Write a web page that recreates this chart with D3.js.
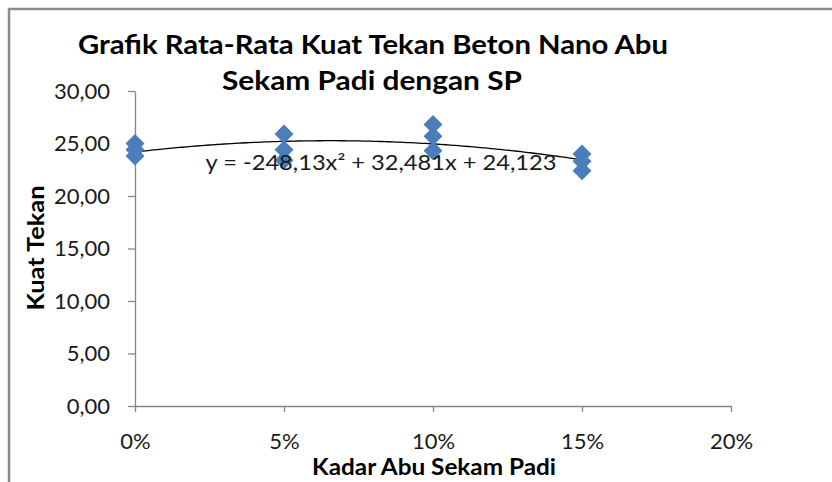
<!DOCTYPE html>
<html>
<head>
<meta charset="utf-8">
<script src="https://cdn.jsdelivr.net/npm/d3@7"></script>
<style>
  html, body { margin: 0; padding: 0; background: #fff; }
  svg { display: block; font-family: Lato, 'Open Sans', sans-serif; }
</style>
</head>
<body>
<div id="graph"></div>
<script>
// values
const kadar = [0, 0.05, 0.10, 0.15]
const kuatTekan = [
  [25.0, 24.4, 23.8],
  [25.9, 24.4, 23.4],
  [26.8, 25.7, 24.3],
  [24.0, 23.3, 22.4]
]
const xTicks = [0, 0.05, 0.10, 0.15, 0.20]
const yTicks = [0, 5, 10, 15, 20, 25, 30]
const titleLines = ['Grafik Rata-Rata Kuat Tekan Beton Nano Abu', 'Sekam Padi dengan SP']
const equationLabel = 'y = -248,13x² + 32,481x + 24,123'

const SIZE = Object.freeze({ WIDTH: 832, HEIGHT: 482 }),
      PLOT = Object.freeze({ LEFT: 135, RIGHT: 731, TOP: 91, BOTTOM: 406 }),
      COLORS = Object.freeze({ MARKER: '#4a7ebb', AXIS: '#868686', TEXT: '#1a1a1a', BORDER: '#8a8a8a' })

const locale = d3.formatLocale({ decimal: ',', thousands: '.', grouping: [3], currency: ['', ''] })
const formatY = locale.format('.2f'),
      formatX = d3.format('.0%')

const points = []
kadar.forEach((x, i) => kuatTekan[i].forEach(y => points.push({ x, y })))

// least squares fit of a 2nd order polynomial, like the spreadsheet trendline
const fitQuadratic = (data) => {
  const s = [0, 0, 0, 0, 0], t = [0, 0, 0]
  data.forEach(({ x, y }) => {
    for (let k = 0; k < 5; k++) s[k] += Math.pow(x, k)
    for (let k = 0; k < 3; k++) t[k] += y * Math.pow(x, k)
  })
  const m = [
    [s[0], s[1], s[2], t[0]],
    [s[1], s[2], s[3], t[1]],
    [s[2], s[3], s[4], t[2]]
  ]
  for (let c = 0; c < 3; c++) {
    for (let r = c + 1; r < 3; r++) {
      const f = m[r][c] / m[c][c]
      for (let k = c; k < 4; k++) m[r][k] -= f * m[c][k]
    }
  }
  const coef = [0, 0, 0]
  for (let r = 2; r >= 0; r--) {
    let v = m[r][3]
    for (let k = r + 1; k < 3; k++) v -= m[r][k] * coef[k]
    coef[r] = v / m[r][r]
  }
  return x => coef[0] + coef[1] * x + coef[2] * x * x
}

const buildChart = () => {
  const xScale = d3.scaleLinear().domain([0, 0.2]).range([PLOT.LEFT, PLOT.RIGHT]),
        yScale = d3.scaleLinear().domain([0, 30]).range([PLOT.BOTTOM, PLOT.TOP])

  const svg = d3.select('#graph')
    .append('svg')
    .attr('width', SIZE.WIDTH)
    .attr('height', SIZE.HEIGHT)

  // chart frame (only top and left edges are in view)
  svg.append('path')
    .attr('d', `M9,${SIZE.HEIGHT + 5}V9H${SIZE.WIDTH + 5}`)
    .attr('fill', 'none')
    .attr('stroke', COLORS.BORDER)
    .attr('stroke-width', 2.5)

  const xAxis = d3.axisBottom(xScale)
    .tickValues(xTicks)
    .tickFormat(formatX)
    .tickSizeInner(6)
    .tickSizeOuter(0)
    .tickPadding(21)

  const yAxis = d3.axisLeft(yScale)
    .tickValues(yTicks)
    .tickFormat(formatY)
    .tickSizeInner(7)
    .tickSizeOuter(0)
    .tickPadding(18)

  const gx = svg.append('g')
    .attr('transform', `translate(0,${PLOT.BOTTOM})`)
    .call(xAxis)
  const gy = svg.append('g')
    .attr('transform', `translate(${PLOT.LEFT},0)`)
    .call(yAxis)

  ;[gx, gy].forEach(g => {
    g.select('.domain').attr('stroke', COLORS.AXIS).attr('stroke-width', 1.3)
    g.selectAll('.tick line').attr('stroke', COLORS.AXIS).attr('stroke-width', 1.3)
    g.selectAll('.tick text')
      .attr('fill', COLORS.TEXT)
      .style('font-size', '22px')
      .style('font-family', 'Lato, sans-serif')
  })

  // trendline
  const trend = fitQuadratic(points)
  const trendX = d3.range(0, 0.15 + 1e-9, 0.0025)
  svg.append('path')
    .datum(trendX)
    .attr('fill', 'none')
    .attr('stroke', '#000')
    .attr('stroke-width', 1.3)
    .attr('d', d3.line().x(d => xScale(d)).y(d => yScale(trend(d))).curve(d3.curveMonotoneX))

  // markers
  svg.append('g')
    .selectAll('path')
    .data(points)
    .enter()
    .append('path')
    .attr('transform', d => `translate(${xScale(d.x)},${yScale(d.y)})`)
    .attr('d', d3.symbol(d3.symbolDiamond2, 230))
    .attr('fill', COLORS.MARKER)

  // equation label
  svg.append('text')
    .attr('x', 381)
    .attr('y', 170)
    .attr('text-anchor', 'middle')
    .attr('textLength', 351)
    .attr('lengthAdjust', 'spacingAndGlyphs')
    .attr('fill', COLORS.TEXT)
    .style('font-size', '21px')
    .text(equationLabel)

  // title
  svg.append('text')
    .attr('x', 373)
    .attr('y', 54)
    .attr('text-anchor', 'middle')
    .attr('textLength', 590)
    .attr('lengthAdjust', 'spacingAndGlyphs')
    .style('font-size', '27px')
    .style('font-weight', 'bold')
    .text(titleLines[0])
  svg.append('text')
    .attr('x', 372)
    .attr('y', 90)
    .attr('text-anchor', 'middle')
    .attr('textLength', 300)
    .attr('lengthAdjust', 'spacingAndGlyphs')
    .style('font-size', '27px')
    .style('font-weight', 'bold')
    .text(titleLines[1])

  // axis titles
  svg.append('text')
    .attr('x', 434)
    .attr('y', 475)
    .attr('text-anchor', 'middle')
    .attr('textLength', 244)
    .attr('lengthAdjust', 'spacingAndGlyphs')
    .style('font-size', '22px')
    .style('font-weight', 'bold')
    .text('Kadar Abu Sekam Padi')

  svg.append('text')
    .attr('transform', 'translate(44,248) rotate(-90)')
    .attr('text-anchor', 'middle')
    .attr('textLength', 125)
    .attr('lengthAdjust', 'spacingAndGlyphs')
    .style('font-size', '23px')
    .style('font-weight', 'bold')
    .text('Kuat Tekan')
}

buildChart()
</script>
</body>
</html>
